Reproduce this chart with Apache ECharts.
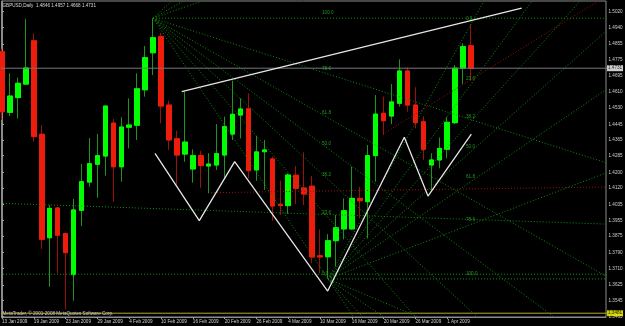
<!DOCTYPE html>
<html><head><meta charset="utf-8">
<script src="https://cdn.jsdelivr.net/npm/echarts@6/dist/echarts.min.js"></script>
<style>html,body{margin:0;padding:0;background:#000;}#c{width:625px;height:326px;}</style>
</head><body><div id="c"></div>
<script>
// ---- data ----
const symbolName = 'GBPUSD,Daily';
const dates = ['13 Jan 2009','14 Jan 2009','15 Jan 2009','16 Jan 2009','19 Jan 2009','20 Jan 2009','21 Jan 2009','22 Jan 2009',
'23 Jan 2009','26 Jan 2009','27 Jan 2009','28 Jan 2009','29 Jan 2009','30 Jan 2009','2 Feb 2009','3 Feb 2009',
'4 Feb 2009','5 Feb 2009','6 Feb 2009','9 Feb 2009','10 Feb 2009','11 Feb 2009','12 Feb 2009','13 Feb 2009',
'16 Feb 2009','17 Feb 2009','18 Feb 2009','19 Feb 2009','20 Feb 2009','23 Feb 2009','24 Feb 2009','25 Feb 2009',
'26 Feb 2009','27 Feb 2009','2 Mar 2009','3 Mar 2009','4 Mar 2009','5 Mar 2009','6 Mar 2009','9 Mar 2009',
'10 Mar 2009','11 Mar 2009','12 Mar 2009','13 Mar 2009','16 Mar 2009','17 Mar 2009','18 Mar 2009','19 Mar 2009',
'20 Mar 2009','23 Mar 2009','24 Mar 2009','25 Mar 2009','26 Mar 2009','27 Mar 2009','30 Mar 2009','31 Mar 2009',
'1 Apr 2009','2 Apr 2009','3 Apr 2009','6 Apr 2009'];
const opens  = [1.4815,1.4506,1.4581,1.4650,1.4871,1.4394,1.3866,1.4018,1.3887,1.3678,1.4006,1.4150,1.4241,1.4283,1.4451,1.4228,1.4430,1.4440,1.4621,1.4810,1.4892,1.4543,1.4371,1.4293,1.4217,1.4285,1.4232,1.4237,1.4288,1.4395,1.4492,1.4524,1.4212,1.4305,1.4268,1.4037,1.4030,1.4185,1.4120,1.4129,1.3774,1.3769,1.3851,1.3911,1.3911,1.4067,1.4050,1.4285,1.4501,1.4487,1.4552,1.4717,1.4543,1.4458,1.4237,1.4263,1.4317,1.4453,1.4731,1.4846];
const highs  = [1.4830,1.4705,1.4683,1.4981,1.4909,1.4441,1.4033,1.4023,1.3892,1.4064,1.4242,1.4375,1.4395,1.4540,1.4472,1.4481,1.4577,1.4705,1.4844,1.4986,1.4912,1.4565,1.4412,1.4611,1.4317,1.4309,1.4297,1.4446,1.4484,1.4667,1.4577,1.4603,1.4385,1.4365,1.4280,1.4157,1.4195,1.4232,1.4302,1.4181,1.3909,1.3885,1.3982,1.4067,1.4229,1.4126,1.4339,1.4594,1.4586,1.4650,1.4776,1.4736,1.4634,1.4487,1.4297,1.4378,1.4481,1.4747,1.4858,1.4957];
const lows   = [1.4467,1.4487,1.4475,1.4645,1.4356,1.3809,1.3616,1.3685,1.3502,1.3545,1.3926,1.4126,1.4070,1.4183,1.4050,1.4152,1.4322,1.4365,1.4586,1.4696,1.4450,1.4314,1.4130,1.4254,1.4147,1.4121,1.4093,1.4212,1.4169,1.4365,1.4373,1.4169,1.4157,1.4110,1.3953,1.3982,1.3987,1.4038,1.4033,1.3736,1.3685,1.3656,1.3718,1.3858,1.3906,1.3965,1.3863,1.4152,1.4390,1.4446,1.4535,1.4509,1.4424,1.4263,1.4110,1.4220,1.4271,1.4446,1.4650,1.4668];
const closes = [1.4509,1.4589,1.4654,1.4732,1.4382,1.3858,1.4016,1.3879,1.3790,1.4008,1.4152,1.4244,1.4285,1.4538,1.4228,1.4431,1.4441,1.4626,1.4785,1.4887,1.4538,1.4365,1.4288,1.4354,1.4285,1.4234,1.4242,1.4295,1.4433,1.4496,1.4523,1.4208,1.4304,1.4314,1.4028,1.4030,1.4186,1.4118,1.4089,1.3768,1.3768,1.3851,1.3917,1.4004,1.4067,1.4055,1.4285,1.4497,1.4463,1.4559,1.4717,1.4543,1.4453,1.4317,1.4263,1.4322,1.4455,1.4731,1.4841,1.4731];
const dateTickIdx = [0,4,8,12,16,20,24,28,32,36,40,44,48,52,56];
const priceTickLabels = ['1.5020','1.4940','1.4855','1.4775','1.4695','1.4610','1.4530','1.4445','1.4365','1.4285',
  '1.4200','1.4120','1.4035','1.3955','1.3875','1.3790','1.3710','1.3625','1.3545','1.3465'];
// drawn objects (bar index, price)
const trendX = [22.60, 65.36];  const trendY = [1.4611, 1.5037];
const zigX = [19.24, 24.81, 29.26, 40.96, 50.60, 53.58, 59.03];
const zigY = [1.4296, 1.3953, 1.4254, 1.3594, 1.4379, 1.4079, 1.4395];
const fan1 = [[19, 1.4986], [41, 1.3656]];
const fan2 = [[41, 1.3656], [59, 1.4957]];
const fanLevels = [0, 0.236, 0.382, 0.5, 0.618, 0.786, 1, 1.236, 1.382, 1.618];
const fibLevels = [0, 23.6, 38.2, 50.0, 61.8, 78.6, 100.0];
const fib1 = {x: 40.25, hi: 1.4986, lo: 1.3656, hiLevel: 100};
const fib2 = {x: 58.36, hi: 1.4957, lo: 1.3656, hiLevel: 0};
const greenLineX = [-0.26, 75.84]; const greenLineY = [1.4042, 1.3936];
const flatLine = 1.3680;
const redLine1X = [26.28, 75.97]; const redLine1Y = [1.4096, 1.4125];
const redLine2X = [47.92, 75.22]; const redLine2Y = [1.4395, 1.5079];
const lastPrice = closes[closes.length - 1];
const yellowLine = 1.3481;

// ---- chart ----
const FONT = 'Liberation Sans';
const FS = 4.6;
const X_MIN = -0.069, X_MAX = 75.97;
const idx = opens.map((_, i) => i);
const wickData = idx.map(i => [i, opens[i], closes[i], lows[i], highs[i]]);
const bodyData = idx.map(i => [i, opens[i], closes[i], Math.min(opens[i], closes[i]), Math.max(opens[i], closes[i])]);
const dotted = {color: '#109010', width: 1, type: [1, 2]};

function seg(xs, ys, style, z) {
  return {type: 'line', data: xs.map((x, k) => [x, ys[k]]), symbol: 'none', lineStyle: style, silent: true, z: z || 4, clip: true};
}
function fanSeries(f) {
  const P = f[0], Q = f[1];
  return fanLevels.map(r => {
    const tp = Q[1] + (P[1] - Q[1]) * r;
    const k = 100 / (Q[0] - P[0]);
    return seg([P[0], P[0] + (Q[0] - P[0]) * k], [P[1], P[1] + (tp - P[1]) * k], dotted, 3);
  });
}
function fibLabels(f) {
  return fibLevels.map(l => {
    const frac = f.hiLevel === 100 ? l / 100 : 1 - l / 100;
    return [f.x, f.lo + (f.hi - f.lo) * frac, l.toFixed(1)];
  });
}
function priceBox(price, bg, z) {
  return {type: 'scatter', data: [[X_MAX, price]], symbolSize: 0, silent: true, z: z, clip: false,
    label: {show: true, position: 'right', distance: 1, formatter: price.toFixed(4), backgroundColor: bg, color: '#000',
            fontSize: FS, fontFamily: FONT, padding: [1, 1, 0, 1], verticalAlign: 'middle'}};
}

const series = [
  {type: 'candlestick', data: wickData, barWidth: 5, z: 2, clip: true,
   itemStyle: {color: '#1e961e', color0: '#9a1208', borderColor: '#1e961e', borderColor0: '#9a1208', borderWidth: 1}},
  {type: 'candlestick', data: bodyData, barWidth: 5, z: 2, clip: true,
   itemStyle: {color: '#00ff00', color0: '#ee1c0a', borderColor: '#00ff00', borderColor0: '#ee1c0a', borderWidth: 1}},
  seg([-1, 80], [lastPrice, lastPrice], {color: '#767682', width: 1}, 3),
  seg([-1, 80], [yellowLine, yellowLine], {color: '#b8a830', width: 1}, 3),
  seg(greenLineX, greenLineY, dotted, 3),
  seg([-1, 80], [flatLine, flatLine], dotted, 3),
  seg(redLine1X, redLine1Y, {color: '#a01010', width: 1, type: [1, 2]}, 3),
  seg(redLine2X, redLine2Y, {color: '#a01010', width: 1, type: [1, 2]}, 3),
  ...fanSeries(fan1),
  ...fanSeries(fan2),
  seg(trendX, trendY, {color: '#e6e6e6', width: 1.3}, 5),
  seg(zigX, zigY, {color: '#e6e6e6', width: 1.3}, 5),
  {type: 'scatter', data: fibLabels(fib1).concat(fibLabels(fib2)), symbolSize: 0, silent: true, z: 6,
   label: {show: true, position: 'right', distance: 0, offset: [0, -5], formatter: p => p.data[2],
           color: '#2bbf2b', fontSize: FS, fontFamily: FONT}},
  priceBox(lastPrice, '#ffffff', 8),
  priceBox(yellowLine, '#ffff00', 8)
];

const option = {
  animation: false,
  backgroundColor: '#000',
  title: [
    {text: symbolName + '  ' + [opens, highs, lows, closes].map(a => a[a.length - 1].toFixed(4)).join(' '),
     left: 2.5, top: 3, padding: 0, textStyle: {color: '#d8d8d8', fontSize: FS, fontWeight: 'normal', fontFamily: FONT}},
    {text: 'MetaTrader, © 2001-2008 MetaQuotes Software Corp.',
     left: 2.5, top: 311, padding: 0, textStyle: {color: '#c8c8c8', fontSize: FS, fontWeight: 'normal', fontFamily: FONT}}
  ],
  grid: {left: 1.5, right: 19, top: 1, bottom: 9, containLabel: false, outerBoundsMode: 'none',
         show: true, borderColor: '#8c8c8c', borderWidth: 1, backgroundColor: 'transparent'},
  xAxis: {type: 'value', min: X_MIN, max: X_MAX,
    axisLine: {show: true, onZero: false, lineStyle: {color: '#8c8c8c'}},
    axisTick: {show: true, length: 2, customValues: dateTickIdx, lineStyle: {color: '#a0a0a0'}},
    axisLabel: {show: true, customValues: dateTickIdx, formatter: v => dates[v] || '', align: 'left', margin: 2,
                color: '#d0d0d0', fontSize: FS, fontFamily: FONT},
    splitLine: {show: false}},
  yAxis: {type: 'value', position: 'right', min: 1.34617, max: 1.50739,
    axisLine: {show: true, lineStyle: {color: '#8c8c8c'}},
    axisTick: {show: true, length: 2, customValues: priceTickLabels.map(Number), lineStyle: {color: '#a0a0a0'}},
    axisLabel: {show: true, customValues: priceTickLabels.map(Number), formatter: v => v.toFixed(4), margin: 2.5,
                color: '#d0d0d0', fontSize: FS, fontFamily: FONT},
    splitLine: {show: false}},
  series: series
};
const chart = echarts.init(document.getElementById('c'));
chart.setOption(option);
</script></body></html>
